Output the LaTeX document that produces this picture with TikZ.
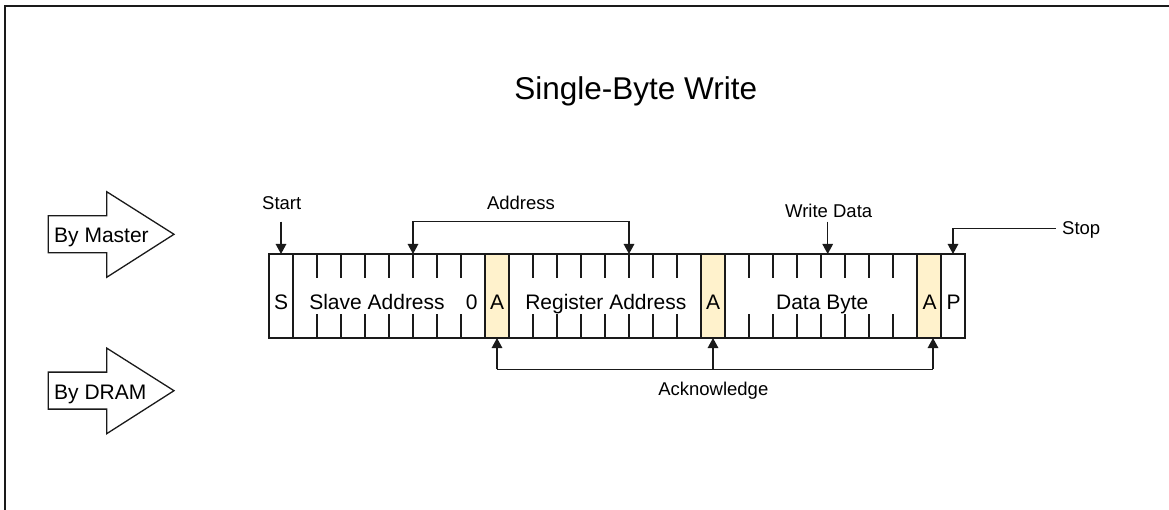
\documentclass[tikz,border=0pt]{standalone}
\usepackage{fontspec}
\setmainfont{Liberation Sans}
\usetikzlibrary{arrows.meta}
\definecolor{ackfill}{HTML}{FFF2CC}
\definecolor{ink}{HTML}{1A1A1A}
\tikzset{
  cell/.style={draw=ink, line width=1.3pt, minimum height=84pt, inner sep=0pt, outer sep=0pt},
  ackcell/.style={cell, fill=ackfill, minimum width=24pt},
  bitcell/.style={cell, minimum width=24pt},
  group/.style={cell, minimum width=192pt},
  celltxt/.style={anchor=base, inner sep=0pt, font=\fontsize{21}{25}\selectfont},
  lbl/.style={anchor=base, inner sep=0pt, font=\fontsize{18.5}{22}\selectfont},
  arr/.style={-{Triangle[length=10pt,width=10.5pt]}, line width=1.3pt, draw=ink},
  arrboth/.style={{Triangle[length=10pt,width=10.5pt]}-{Triangle[length=10pt,width=10.5pt]}, line width=1.3pt, draw=ink},
  conn/.style={line width=1.3pt, draw=ink},
  tick/.style={line width=1.3pt, draw=ink},
  bigarrow/.style={line width=1.3pt, draw=ink, fill=white, line join=miter}
}
\begin{document}
\begin{tikzpicture}[x=1pt,y=-1pt]
\useasboundingbox (0,0) rectangle (1169,510);
\fill[white] (0,0) rectangle (1169,510);
% frame
\draw[line width=2pt, ink] (5,530) -- (5,6) -- (1190,6);

% title
\node[anchor=base, inner sep=0pt, font=\fontsize{31.5}{36}\selectfont] (title) at (635.7,99.3) {Single-Byte Write};

% big arrows
\draw[bigarrow] (48.3,215.7) -- (106.7,215.7) -- (106.7,191.7) -- (174,234.3) -- (106.7,277.3) -- (106.7,252.7) -- (48.3,252.7) -- cycle;
\node[celltxt, anchor=base west] (bymaster) at (54,242.7) {By Master};
\draw[bigarrow] (48.3,372.1) -- (106.7,372.1) -- (106.7,348.1) -- (174,390.7) -- (106.7,433.7) -- (106.7,409.1) -- (48.3,409.1) -- cycle;
\node[celltxt, anchor=base west] (bydram) at (54,399.3) {By DRAM};

% bar cells
\node[bitcell] (S) at (281,296) {};
\node[group] (sa) at (389,296) {};
\node[ackcell] (A1) at (497,296) {};
\node[group] (ra) at (605,296) {};
\node[ackcell] (A2) at (713,296) {};
\node[group] (db) at (821,296) {};
\node[ackcell] (A3) at (929,296) {};
\node[bitcell] (P) at (953,296) {};

% ticks
\foreach \g in {sa,ra,db}{
  \foreach \i in {1,...,7}{
    \draw[tick] ([xshift=\i*24pt]\g.north west) -- ++(0,23.7);
    \draw[tick] ([xshift=\i*24pt]\g.south west) -- ++(0,-24.4);
  }
}

% cell texts
\node[celltxt] (tS) at (281,310) {S};
\node[celltxt] (tsa) at (377,310) {Slave Address};
\node[celltxt] (t0) at (471.7,310) {0};
\node[celltxt] (tA1) at (497,310) {A};
\node[celltxt] (tra) at (605.8,310) {Register Address};
\node[celltxt] (tA2) at (713,310) {A};
\node[celltxt] (tdb) at (822.2,310) {Data Byte};
\node[celltxt] (tA3) at (929.5,310) {A};
\node[celltxt] (tP) at (953.5,310) {P};

% labels
\node[lbl] (start) at (281.7,210) {Start};
\node[lbl] (address) at (521,210) {Address};
\node[lbl] (writedata) at (828.7,217.7) {Write Data};
\node[lbl, anchor=base west] (stop) at (1062,235) {Stop};
\node[lbl] (ack) at (713.3,395) {Acknowledge};

% connectors
\coordinate (startc) at (281,221.7);
\draw[arr] (startc) -- (S.north);

\coordinate (addrL) at (413,254);
\coordinate (addrR) at (629,254);
\draw[arrboth] (addrL) -- ++(0,-32.3) -| (addrR);

\coordinate (wdc) at (827.7,221.7);
\draw[arr] (wdc) -- (wdc |- db.north);

\coordinate (stopc) at (1055.7,228.3);
\draw[arr] (stopc) -| (P.north);

\coordinate (ackL) at (497,369.3);
\coordinate (ackM) at (713,369.3);
\coordinate (ackR) at (933,369.3);
\draw[conn] (ackL) -- (ackR);
\draw[arr] (ackL) -- (A1.south);
\draw[arr] (ackM) -- (A2.south);
\draw[arr] (ackR) -- (ackR |- A3.south);
\end{tikzpicture}
\end{document}
